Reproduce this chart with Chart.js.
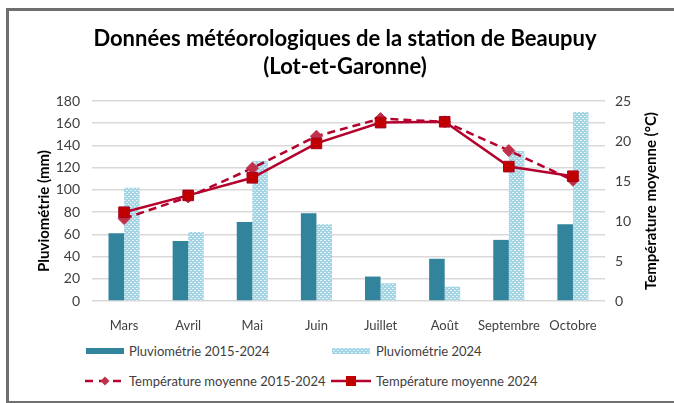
<!DOCTYPE html>
<html><head><meta charset="utf-8">
<script src="https://cdn.jsdelivr.net/npm/chart.js@4.4.1/dist/chart.umd.min.js"></script>
<style>
html,body{margin:0;padding:0;background:#fff;overflow:hidden;}
#wrap{position:relative;width:720px;height:403px;overflow:hidden;font-family:Lato,"Open Sans",sans-serif;}
#frame{position:absolute;left:6px;top:8px;width:760px;height:390px;border-left:3px solid #6f6f6f;border-top:3px solid #6f6f6f;border-bottom:3px solid #6f6f6f;border-right:none;}
#c{position:absolute;left:0;top:0;}
#title{position:absolute;left:0;width:690px;top:24px;text-align:center;font-weight:bold;font-size:22px;line-height:28px;color:#000;}
.lg{position:absolute;font-size:13px;color:#404040;line-height:16px;white-space:nowrap;}
.sw{position:absolute;}
</style></head>
<body><div id="wrap">
<div id="frame"></div>
<canvas id="c" width="674" height="335"></canvas>
<div id="title">Données météorologiques de la station de Beaupuy<br>(Lot-et-Garonne)</div>
<canvas class="sw" id="s1" width="40" height="14" style="left:85px;top:344px"></canvas>
<div class="lg" style="left:129px;top:343px">Pluviométrie 2015-2024</div>
<canvas class="sw" id="s2" width="40" height="14" style="left:331px;top:344px"></canvas>
<div class="lg" style="left:376px;top:343px">Pluviométrie 2024</div>
<canvas class="sw" id="s3" width="44" height="14" style="left:83px;top:374px"></canvas>
<div class="lg" style="left:129px;top:373px">Température moyenne 2015-2024</div>
<canvas class="sw" id="s4" width="44" height="14" style="left:329px;top:374px"></canvas>
<div class="lg" style="left:376px;top:373px">Température moyenne 2024</div>
</div>
<script>
const categories = ['Mars','Avril','Mai','Juin','Juillet','Août','Septembre','Octobre'];
const pluvio20152024 = [61, 54, 71, 79, 22, 38, 55, 69];
const pluvio2024 = [102, 62, 126, 69, 16, 13, 135, 170];
const temp20152024 = [10.3, 13.0, 16.6, 20.6, 22.8, 22.4, 18.8, 15.1];
const temp2024 = [11.1, 13.2, 15.4, 19.7, 22.3, 22.4, 16.8, 15.6];
const leftTicks = [0,20,40,60,80,100,120,140,160,180];
const rightTicks = [0,5,10,15,20,25];

const DARK = '#31849b';
const RED = '#c00000';
const LINE = '#b3002d';

function makePattern(ctx){
  const p = document.createElement('canvas');
  p.width = 4; p.height = 4;
  const g = p.getContext('2d');
  g.fillStyle = '#a3d5e4'; g.fillRect(0,0,4,4);
  g.fillStyle = '#eef8fb';
  g.fillRect(0,0,1,1); g.fillRect(2,2,1,1);
  g.fillStyle = '#d0ebf2';
  g.fillRect(1,0,1,1); g.fillRect(3,2,1,1);
  return ctx.createPattern(p,'repeat');
}
const mainCtx = document.getElementById('c').getContext('2d');
const pattern = makePattern(mainCtx);

const FONT = 'Lato, "Open Sans", sans-serif';

const axisTitles = {
  id:'axisTitles',
  afterDraw(chart){
    const ctx = chart.ctx;
    ctx.save();
    ctx.font = 'bold 15px ' + FONT;
    ctx.fillStyle = '#000';
    ctx.textAlign = 'center'; ctx.textBaseline = 'middle';
    ctx.translate(44, 211);
    ctx.rotate(-Math.PI/2);
    ctx.fillText('Pluviométrie (mm)', 0, 0);
    ctx.restore();
    ctx.save();
    ctx.font = 'bold 15px ' + FONT;
    ctx.fillStyle = '#000';
    ctx.textAlign = 'center'; ctx.textBaseline = 'middle';
    ctx.translate(651, 201);
    ctx.rotate(-Math.PI/2);
    ctx.fillText('Température moyenne (°C)', 0, 0);
    ctx.restore();
  }
};

new Chart(document.getElementById('c'), {
  data: {
    labels: categories,
    datasets: [
      {type:'line', label:'Température moyenne 2024', data: temp2024, yAxisID:'y1', order:0,
       borderColor: LINE, borderWidth:2.5, backgroundColor: RED, pointStyle:'rect', pointRadius:7.5,
       pointBorderColor:'#a50021', pointBorderWidth:1, pointBackgroundColor: RED, tension:0},
      {type:'line', label:'Température moyenne 2015-2024', data: temp20152024, yAxisID:'y1', order:1,
       borderColor: LINE, borderWidth:2.5, borderDash:[8,5], pointStyle:'rectRot', pointRadius:6,
       pointBackgroundColor:'#c0304a', pointBorderColor:'#c0304a', pointBorderWidth:1, tension:0},
      {type:'bar', label:'Pluviométrie 2015-2024', data: pluvio20152024, yAxisID:'y', order:2,
       backgroundColor: DARK, categoryPercentage:0.485, barPercentage:1},
      {type:'bar', label:'Pluviométrie 2024', data: pluvio2024, yAxisID:'y', order:3,
       backgroundColor: pattern, categoryPercentage:0.485, barPercentage:1}
    ]
  },
  options: {
    responsive:false, animation:false,
    layout:{padding:{top:101, bottom:0, left:0, right:0}},
    plugins:{legend:{display:false}, tooltip:{enabled:false}, title:{display:false}},
    scales:{
      x:{
        grid:{display:false}, border:{display:false},
        ticks:{color:'#404040', font:{family:FONT, size:13}, padding:9, maxRotation:0, autoSkip:false},
        afterFit(s){ s.height = 34; }
      },
      y:{
        position:'left', min:0, max:180,
        afterBuildTicks(s){ s.ticks = leftTicks.map(v=>({value:v})); },
        grid:{color:'#d9d9d9', lineWidth:1.5, drawTicks:false}, border:{display:false},
        ticks:{color:'#404040', font:{family:FONT, size:14}, padding:12},
        afterFit(s){ s.width = 92; }
      },
      y1:{
        position:'right', min:0, max:25,
        afterBuildTicks(s){ s.ticks = rightTicks.map(v=>({value:v})); },
        grid:{display:false, drawTicks:false}, border:{display:false},
        ticks:{color:'#404040', font:{family:FONT, size:14}, padding:10},
        afterFit(s){ s.width = 69; }
      }
    }
  },
  plugins:[axisTitles]
});

function sw(id, draw){ const c=document.getElementById(id).getContext('2d'); draw(c); }
sw('s1', c=>{ c.fillStyle=DARK; c.fillRect(1,4,38,6); });
sw('s2', c=>{ c.fillStyle=makePattern(c); c.fillRect(1,4,38,6); });
sw('s3', c=>{ c.strokeStyle=LINE; c.lineWidth=2.5; c.setLineDash([8,6]); c.beginPath(); c.moveTo(2,7); c.lineTo(42,7); c.stroke();
  c.fillStyle='#c0304a'; c.beginPath(); c.moveTo(22,2.5); c.lineTo(26.5,7); c.lineTo(22,11.5); c.lineTo(17.5,7); c.closePath(); c.fill(); });
sw('s4', c=>{ c.strokeStyle=LINE; c.lineWidth=2.5; c.beginPath(); c.moveTo(2,7); c.lineTo(42,7); c.stroke();
  c.fillStyle=RED; c.fillRect(17,2,10,10); });
</script>
</body></html>
